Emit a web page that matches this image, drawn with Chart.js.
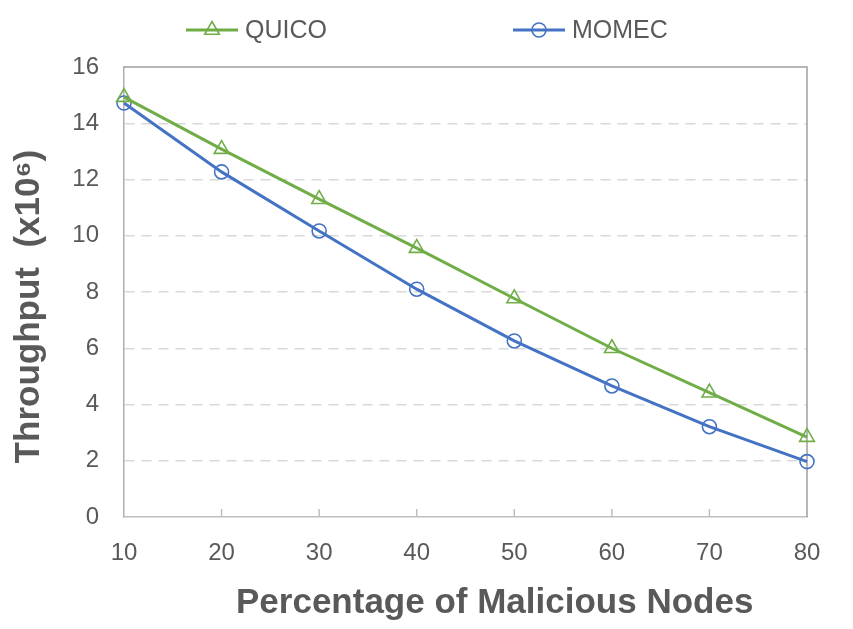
<!DOCTYPE html>
<html>
<head>
<meta charset="utf-8">
<script src="https://cdn.jsdelivr.net/npm/chart.js@4.4.0/dist/chart.umd.min.js"></script>
<style>
    html, body { margin: 0; padding: 0; background: #fff; }
    #wrap { width: 853px; height: 629px; }
</style>
</head>
<body>
<div id="wrap"><canvas id="throughputChart" width="853" height="629"></canvas></div>
<script>
const nodes = ['10', '20', '30', '40', '50', '60', '70', '80'];
const quico = [14.93, 13.08, 11.3, 9.56, 7.77, 6.0, 4.42, 2.84];
const momec = [14.72, 12.27, 10.17, 8.1, 6.26, 4.66, 3.21, 1.97];
const yTicks = [0, 2, 4, 6, 8, 10, 12, 14, 16];

const FONT = "'Liberation Sans', Arial, sans-serif";
const TEXT = '#595959';

// Excel style frame, inside tick marks and legend on top
const framePlugin = {
    id: 'frame',
    beforeDatasetsDraw(chart) {
        const { ctx, chartArea: a } = chart;
        const x = chart.scales.x;
        ctx.save();
        ctx.lineWidth = 1.5;
        ctx.strokeStyle = '#bfbfbf';
        for (let i = 1; i < x.ticks.length - 1; i++) {
            const px = x.getPixelForTick(i);
            ctx.beginPath();
            ctx.moveTo(px, a.bottom);
            ctx.lineTo(px, a.bottom - 8);
            ctx.stroke();
        }
        ctx.strokeStyle = '#a0a0a0';
        ctx.beginPath();
        ctx.moveTo(a.left, a.top);
        ctx.lineTo(a.right, a.top);
        ctx.lineTo(a.right, a.bottom);
        ctx.stroke();
        ctx.restore();
    },
    afterDraw(chart) {
        const { ctx } = chart;
        const items = [
            { ds: chart.data.datasets[0], x: 186 },
            { ds: chart.data.datasets[1], x: 513 }
        ];
        ctx.save();
        ctx.font = '25px ' + FONT;
        ctx.textBaseline = 'middle';
        items.forEach(it => {
            const y = 30;
            ctx.strokeStyle = it.ds.borderColor;
            ctx.lineWidth = 3;
            ctx.beginPath();
            ctx.moveTo(it.x, y);
            ctx.lineTo(it.x + 52, y);
            ctx.stroke();
            ctx.fillStyle = 'rgba(0,0,0,0)';
            ctx.lineWidth = it.ds.pointBorderWidth;
            Chart.helpers.drawPoint(ctx, {
                pointStyle: it.ds.pointStyle,
                radius: it.ds.pointRadius,
                borderWidth: it.ds.pointBorderWidth,
                rotation: 0
            }, it.x + 26, y);
            ctx.fillStyle = TEXT;
            ctx.fillText(it.ds.label, it.x + 59, y + 1);
        });
        ctx.restore();
    }
};

const ctx = document.getElementById('throughputChart').getContext('2d');

new Chart(ctx, {
    type: 'line',
    data: {
        labels: nodes,
        datasets: [{
            label: 'QUICO',
            data: quico,
            borderColor: '#70ad47',
            borderWidth: 3,
            pointStyle: 'triangle',
            pointRadius: 8.5,
            pointBorderWidth: 1.6,
            pointBorderColor: '#70ad47',
            pointBackgroundColor: 'rgba(0,0,0,0)',
            tension: 0
        }, {
            label: 'MOMEC',
            data: momec,
            borderColor: '#4472c4',
            borderWidth: 3,
            pointStyle: 'circle',
            pointRadius: 7,
            pointBorderWidth: 1.6,
            pointBorderColor: '#4472c4',
            pointBackgroundColor: 'rgba(0,0,0,0)',
            tension: 0
        }]
    },
    options: {
        responsive: false,
        animation: false,
        devicePixelRatio: 1,
        layout: { padding: { top: 67, right: 46, left: 0, bottom: 0 } },
        plugins: {
            legend: { display: false },
            tooltip: { enabled: false }
        },
        scales: {
            x: {
                type: 'category',
                offset: false,
                afterFit(scale) { scale.height = 112; },
                grid: { display: false, drawTicks: false },
                border: { display: true, color: '#bfbfbf', width: 1.5 },
                ticks: { color: TEXT, font: { family: FONT, size: 24 }, padding: 22, maxRotation: 0 },
                title: {
                    display: true,
                    text: '      Percentage of Malicious Nodes',
                    color: TEXT,
                    font: { family: FONT, size: 35, weight: 'bold' },
                    padding: { top: 0, bottom: 5 }
                }
            },
            y: {
                min: 0,
                max: 16,
                afterFit(scale) { scale.width = 124; },
                afterBuildTicks(scale) { scale.ticks = yTicks.map(v => ({ value: v })); },
                grid: {
                    drawTicks: false,
                    color: c => (c.tick.value === 0 || c.tick.value === 16) ? 'rgba(0,0,0,0)' : '#d9d9d9',
                    lineWidth: 1.5
                },
                border: { display: true, color: '#b0b0b0', width: 1.5, dash: [10, 7] },
                ticks: { color: TEXT, font: { family: FONT, size: 24 }, padding: 25 },
                title: {
                    display: true,
                    text: 'Throughput  (x10\u2076)   ',
                    color: TEXT,
                    font: { family: FONT, size: 35, weight: 'bold' },
                    padding: { top: 8, bottom: 0 }
                }
            }
        }
    },
    plugins: [framePlugin]
});
</script>
</body>
</html>
